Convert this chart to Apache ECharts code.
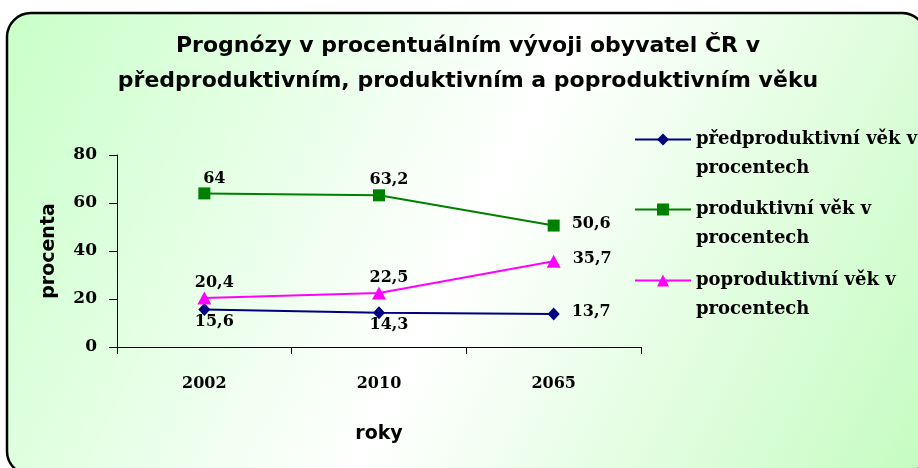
<!DOCTYPE html>
<html>
<head>
<meta charset="utf-8">
<script src="https://cdn.jsdelivr.net/npm/echarts@6/dist/echarts.min.js"></script>
<style>
  html, body { margin: 0; padding: 0; background: #fff; }
  #chart { width: 918px; height: 468px; }
</style>
</head>
<body>
<div id="chart"></div>
<script>
// data
const years = ['2002', '2010', '2065'];
const predproduktivni = [15.6, 14.3, 13.7];
const produktivni = [64, 63.2, 50.6];
const poproduktivni = [20.4, 22.5, 35.7];
const yTicks = { min: 0, max: 80, interval: 20 };
const names = [
  'předproduktivní věk v\nprocentech',
  'produktivní věk v\nprocentech',
  'poproduktivní věk v\nprocentech'
];

const chart = echarts.init(document.getElementById('chart'));

const serifBold = { fontFamily: 'DejaVu Serif', fontWeight: 'bold', color: '#000' };
const sansBold = { fontFamily: 'DejaVu Sans', fontWeight: 'bold', color: '#000' };

// popisky s desetinnou čárkou
const fmt = p => String(p.value).replace('.', ',');

// poslední bod má popisek vpravo, ostatní nahoře/dole
const makeData = (values, pos) => values.map((v, i) => ({
  value: v,
  label: i === values.length - 1
    ? { position: 'right', offset: [0, -2], distance: 12 }
    : { position: pos, offset: [10, 0], distance: pos === 'top' ? 1 : -2 }
}));

// prázdný první řádek -> značka legendy stojí u prvního řádku textu
const legendBase = {
  left: 634,
  padding: 0,
  itemWidth: 56,
  itemHeight: 15,
  itemGap: 0,
  formatter: name => '\n' + name,
  textStyle: { ...serifBold, fontSize: 18, lineHeight: 29 }
};

const option = {
  backgroundColor: '#fff',
  graphic: [{
    type: 'rect',
    z: -10,
    silent: true,
    shape: { x: 7, y: 13, width: 919, height: 462, r: 24 },
    style: {
      stroke: '#000',
      lineWidth: 2.5,
      fill: new echarts.graphic.LinearGradient(0, 0, 1, 1, [
        { offset: 0, color: '#c8ffc8' },
        { offset: 0.5, color: '#ffffff' },
        { offset: 1, color: '#c4fcc0' }
      ])
    }
  }],
  title: {
    text: 'Prognózy v procentuálním vývoji obyvatel ČR v\npředproduktivním, produktivním a poproduktivním věku',
    left: 468,
    top: 29,
    padding: 0,
    textAlign: 'center',
    textStyle: { ...sansBold, fontSize: 22, lineHeight: 35 }
  },
  legend: [
    { ...legendBase, top: 96, data: [names[0]] },
    { ...legendBase, top: 166, data: [names[1]] },
    { ...legendBase, top: 237, data: [names[2]] }
  ],
  grid: { left: 117, right: 277, top: 155, bottom: 121 },
  xAxis: {
    type: 'category',
    data: years,
    boundaryGap: true,
    name: 'roky',
    nameLocation: 'middle',
    nameGap: 78,
    nameTextStyle: { ...sansBold, fontSize: 19 },
    axisLine: { lineStyle: { color: '#000', width: 1 } },
    axisTick: { show: true, length: 7, lineStyle: { color: '#000' } },
    axisLabel: { ...serifBold, fontSize: 16, margin: 29 }
  },
  yAxis: {
    type: 'value',
    min: yTicks.min,
    max: yTicks.max,
    interval: yTicks.interval,
    name: 'procenta',
    nameLocation: 'middle',
    nameGap: 58,
    nameRotate: 90,
    nameTextStyle: { ...sansBold, fontSize: 19 },
    axisLine: { show: true, lineStyle: { color: '#000', width: 1 } },
    axisTick: { show: true, length: 8, lineStyle: { color: '#000' } },
    splitLine: { show: false },
    axisLabel: { ...serifBold, fontSize: 17, margin: 20 }
  },
  series: [
    {
      name: names[0],
      type: 'line',
      data: makeData(predproduktivni, 'bottom'),
      symbol: 'diamond',
      symbolSize: [12, 13],
      lineStyle: { color: '#000080', width: 2 },
      itemStyle: { color: '#000080' },
      label: { show: true, formatter: fmt, ...serifBold, fontSize: 16 }
    },
    {
      name: names[1],
      type: 'line',
      data: makeData(produktivni, 'top'),
      symbol: 'rect',
      symbolSize: 12,
      lineStyle: { color: '#008000', width: 2 },
      itemStyle: { color: '#008000' },
      label: { show: true, formatter: fmt, ...serifBold, fontSize: 16 }
    },
    {
      name: names[2],
      type: 'line',
      data: makeData(poproduktivni, 'top'),
      symbol: 'triangle',
      symbolSize: [14, 13],
      lineStyle: { color: '#ff00ff', width: 2 },
      itemStyle: { color: '#ff00ff' },
      label: { show: true, formatter: fmt, ...serifBold, fontSize: 16 }
    }
  ]
};

chart.setOption(option);
window.addEventListener('resize', () => chart.resize());
</script>
</body>
</html>
